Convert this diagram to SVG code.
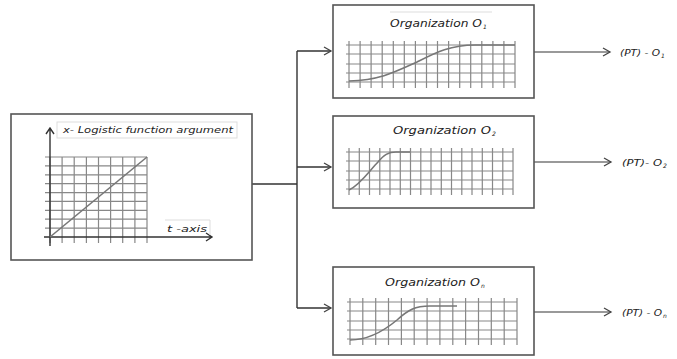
<svg xmlns="http://www.w3.org/2000/svg" width="677" height="359" viewBox="0 0 677 359">
<defs>
<marker id="arr" markerWidth="10" markerHeight="10" refX="8" refY="5" orient="auto" markerUnits="userSpaceOnUse">
<polyline points="1,1 8,5 1,9" fill="none" stroke="#444" stroke-width="1.3"/>
</marker>
</defs>
<style>
.box{fill:#fff;stroke:#555;stroke-width:1.6}
.grid{fill:none;stroke:#888;stroke-width:1.2}
.curve{fill:none;stroke:#777;stroke-width:1.6}
.conn{fill:none;stroke:#333;stroke-width:1.4}
.out{fill:none;stroke:#777;stroke-width:1.6}
.t{font-family:"DejaVu Sans",sans-serif;font-style:italic;fill:#222}
.frame{fill:none;stroke:#ddd;stroke-width:1}
</style>
<rect width="677" height="359" fill="#fff"/>

<g id="connectors">
<path class="conn" d="M252,184 H297 M297,51 V308"/>
<path class="conn" d="M297,51 H331" marker-end="url(#arr)"/>
<path class="conn" d="M297,167 H331" marker-end="url(#arr)"/>
<path class="conn" d="M297,308 H331" marker-end="url(#arr)"/>
<path class="out" d="M534,52 H610" marker-end="url(#arr)"/>
<path class="out" d="M534,162 H611" marker-end="url(#arr)"/>
<path class="out" d="M534,312 H611" marker-end="url(#arr)"/>
</g>

<g id="input">
<rect class="box" x="11" y="114" width="241" height="146"/>
<rect class="frame" x="57" y="122" width="180" height="16"/>
<text class="t" x="63" y="133" font-size="9.5" textLength="170" lengthAdjust="spacingAndGlyphs">x- Logistic function argument</text>
<path class="grid" d="M50,157 V243 M62.1,157 V243 M74.2,157 V243 M86.4,157 V243 M98.5,157 V243 M110.6,157 V243 M122.7,157 V243 M134.9,157 V243 M147,157 V243 M45,157 H147 M45,165.9 H147 M45,174.8 H147 M45,183.7 H147 M45,192.6 H147 M45,201.4 H147 M45,210.3 H147 M45,219.2 H147 M45,228.1 H147"/>
<path class="conn" d="M50,246 V128 M46,134 L50,128 L54,134 M44,237 H212 M206,233 L212,237 L206,241" stroke="#555"/>
<path class="curve" d="M50,237 L147,157"/>
<path class="frame" d="M165,220 H210 V235"/>
<text class="t" x="167" y="232" font-size="9.5" textLength="40" lengthAdjust="spacingAndGlyphs">t  -axis</text>
</g>

<g id="org1">
<rect class="box" x="333" y="5" width="201" height="93"/>
<path class="frame" d="M390,12 H492"/>
<text class="t" x="390" y="27" font-size="10" textLength="92" lengthAdjust="spacingAndGlyphs">Organization O</text>
<text class="t" x="483" y="29" font-size="6">1</text>
<path class="grid" d="M349,41 V88 M360.1,41 V88 M371.1,41 V88 M382.2,41 V88 M393.3,41 V88 M404.3,41 V88 M415.4,41 V88 M426.5,41 V88 M437.5,41 V88 M448.6,41 V88 M459.7,41 V88 M470.7,41 V88 M481.8,41 V88 M492.9,41 V88 M503.9,41 V88 M515,41 V88 M346,45 H515 M346,54 H515 M346,64 H515 M346,73 H515 M346,82 H515"/>
<path class="curve" d="M349,81 C380,80 395,72 417,62 C435,53 450,45 475,45 L515,45"/>
</g>

<g id="org2">
<rect class="box" x="333" y="116" width="201" height="92" stroke="#222"/>
<text class="t" x="393" y="134" font-size="10" textLength="98" lengthAdjust="spacingAndGlyphs">Organization  O</text>
<text class="t" x="492" y="136" font-size="6">2</text>
<path class="grid" d="M349,148 V195 M359.3,148 V195 M369.5,148 V195 M379.8,148 V195 M390,148 V195 M400.3,148 V195 M410.5,148 V195 M420.8,148 V195 M431,148 V195 M441.3,148 V195 M451.5,148 V195 M461.8,148 V195 M472,148 V195 M482.3,148 V195 M492.5,148 V195 M502.8,148 V195 M513,148 V195 M346,152 H513 M346,161 H513 M346,171 H513 M346,180 H513 M346,189 H513"/>
<path class="curve" d="M349,190 C360,185 370,170 378,162 C384,155 388,152 396,152 L410,152"/>
</g>

<g id="orgn">
<rect class="box" x="333" y="267" width="201" height="88"/>
<text class="t" x="385" y="286" font-size="10" textLength="95" lengthAdjust="spacingAndGlyphs">Organization O</text>
<text class="t" x="481" y="288" font-size="6">n</text>
<path class="grid" d="M350,298 V345 M362.8,298 V345 M375.7,298 V345 M388.5,298 V345 M401.4,298 V345 M414.2,298 V345 M427.1,298 V345 M439.9,298 V345 M452.8,298 V345 M465.6,298 V345 M478.5,298 V345 M491.3,298 V345 M504.2,298 V345 M517,298 V345 M347,302 H517 M347,311 H517 M347,321 H517 M347,330 H517 M347,339 H517"/>
<path class="curve" d="M350,340 C370,340 385,330 397,320 C408,310 415,306 430,306 L457,306"/>
</g>

<g id="outputs">
<text class="t" x="620" y="56" font-size="9" textLength="40" lengthAdjust="spacingAndGlyphs">(PT) - O</text>
<text class="t" x="661" y="58" font-size="6">1</text>
<text class="t" x="622" y="166" font-size="9" textLength="40" lengthAdjust="spacingAndGlyphs">(PT)- O</text>
<text class="t" x="663" y="168" font-size="6">2</text>
<text class="t" x="622" y="316" font-size="9" textLength="40" lengthAdjust="spacingAndGlyphs">(PT) - O</text>
<text class="t" x="663" y="318" font-size="6">n</text>
</g>
</svg>
